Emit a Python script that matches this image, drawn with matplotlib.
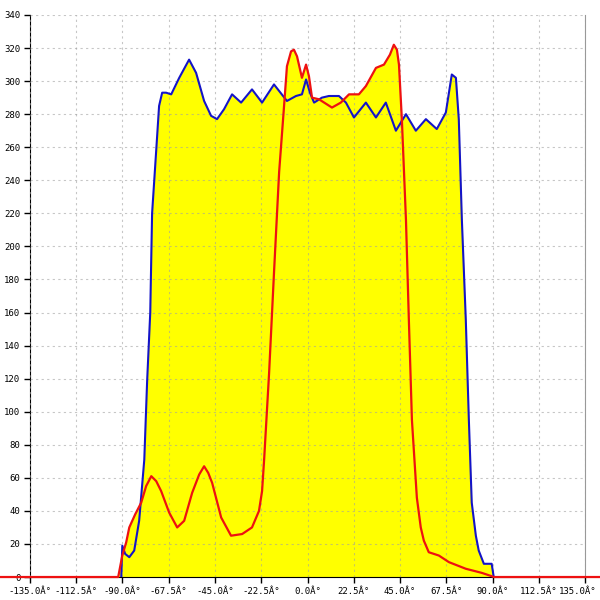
import numpy as np
import matplotlib
matplotlib.use('Agg')
import matplotlib.pyplot as plt
import matplotlib.transforms as mtransforms

# blue series (angle in degrees, value)
blue_deg = [-90.6, -90.1, -88.7, -86.7, -84.3, -81.9, -79.4, -78.0, -76.5, -75.6,
            -73.5, -72.2, -70.7, -68.8, -66.3, -62.4, -57.6, -54.2, -50.3, -46.9,
            -44.0, -40.6, -36.7, -32.3, -27.0, -22.1, -16.3, -10.0, -5.6, -2.7,
            -0.7, 1.2, 3.2, 7.0, 10.4, 15.3, 18.7, 22.6, 28.4, 33.3,
            38.1, 43.0, 47.9, 52.7, 57.6, 62.9, 67.3, 70.2, 72.2, 73.6,
            75.1, 77.0, 78.5, 79.9, 81.9, 83.3, 85.8, 89.6, 90.6]
blue_val = [0, 19, 14, 12, 16, 34, 71, 119, 160, 220,
            260, 285, 293, 293, 292, 302, 313, 305, 288, 279,
            277, 283, 292, 287, 295, 287, 298, 288, 291, 292,
            301, 293, 287, 290, 291, 291, 287, 278, 287, 278,
            287, 270, 280, 270, 277, 271, 281, 304, 302, 277,
            216, 156, 95, 45, 25, 16, 8, 8, 0]

# red series
red_deg = [-180, -92.1, -90.1, -88.2, -86.7, -83.8, -80.9, -78.5, -76.0, -73.6,
           -71.2, -67.3, -63.4, -60.0, -56.1, -52.7, -50.3, -48.3, -46.4, -42.0,
           -37.2, -31.8, -27.0, -23.6, -22.1, -21.1, -18.7, -16.3, -13.8, -11.4,
           -10.0, -8.0, -6.6, -5.1, -2.7, -0.7, 0.7, 2.2, 5.6, 11.9,
           16.2, 20.2, 25.0, 28.4, 33.3, 37.2, 40.1, 42.0, 43.5, 44.5,
           45.9, 47.9, 49.3, 50.8, 53.2, 55.1, 56.6, 59.0, 63.9, 68.8,
           77.0, 84.8, 89.6, 90.6, 180]
red_val = [0, 0, 13, 21, 30, 38, 45, 55, 61, 58,
           52, 39, 30, 34, 51, 62, 67, 63, 57, 36,
           25, 26, 30, 40, 52, 71, 123, 184, 245, 285,
           309, 318, 319, 315, 302, 310, 303, 290, 289, 284,
           287, 292, 292, 297, 308, 310, 316, 322, 319, 310,
           277, 216, 156, 95, 48, 30, 22, 15, 13, 9,
           5, 2.5, 0.5, 0, 0]

x_ticks = [-135.0, -112.5, -90.0, -67.5, -45.0, -22.5, 0.0, 22.5, 45.0, 67.5, 90.0, 112.5, 135.0]
x_labels = ['%.1fÂ°' % t for t in x_ticks]
y_ticks = list(range(0, 341, 20))

fig = plt.figure(figsize=(6, 6), dpi=100)
ax = fig.add_axes([0.05, 0.0383, 0.925, 0.9367])

ax.fill_between(blue_deg, blue_val, 0, color='#ffff00', lw=0, zorder=1)
ax.fill_between(red_deg, red_val, 0, color='#ffff00', lw=0, zorder=1)
ax.plot(blue_deg, blue_val, color='#1414c8', lw=1.5, zorder=3)
ax.plot(red_deg, red_val, color='#ee1111', lw=1.6, zorder=4, clip_on=False)

ax.set_xlim(-135, 135)
ax.set_ylim(0, 340)
ax.set_xticks(x_ticks)
ax.set_xticklabels(x_labels)
ax.set_yticks(y_ticks)

ax.set_axisbelow(False)
ax.grid(True, color='#a0a0a0', alpha=0.6, linestyle=(0, (2, 3)), lw=0.8, zorder=2)

for lab in ax.get_xticklabels() + ax.get_yticklabels():
    lab.set_fontfamily('DejaVu Sans Mono')
    lab.set_fontsize(6.5)
ax.tick_params(axis='both', direction='out', length=4, width=1, color='black', pad=3)

# last x label would run off the right edge, pull it in a bit
last = ax.get_xticklabels()[-1]
last.set_transform(last.get_transform() +
                   mtransforms.ScaledTranslation(-7 / 100, 0, fig.dpi_scale_trans))

ax.spines['top'].set_visible(False)
ax.spines['right'].set_color('#999999')
ax.spines['right'].set_linewidth(0.8)
ax.spines['left'].set_color('black')
ax.spines['bottom'].set_color('black')

fig.savefig('out.png', dpi=100)
